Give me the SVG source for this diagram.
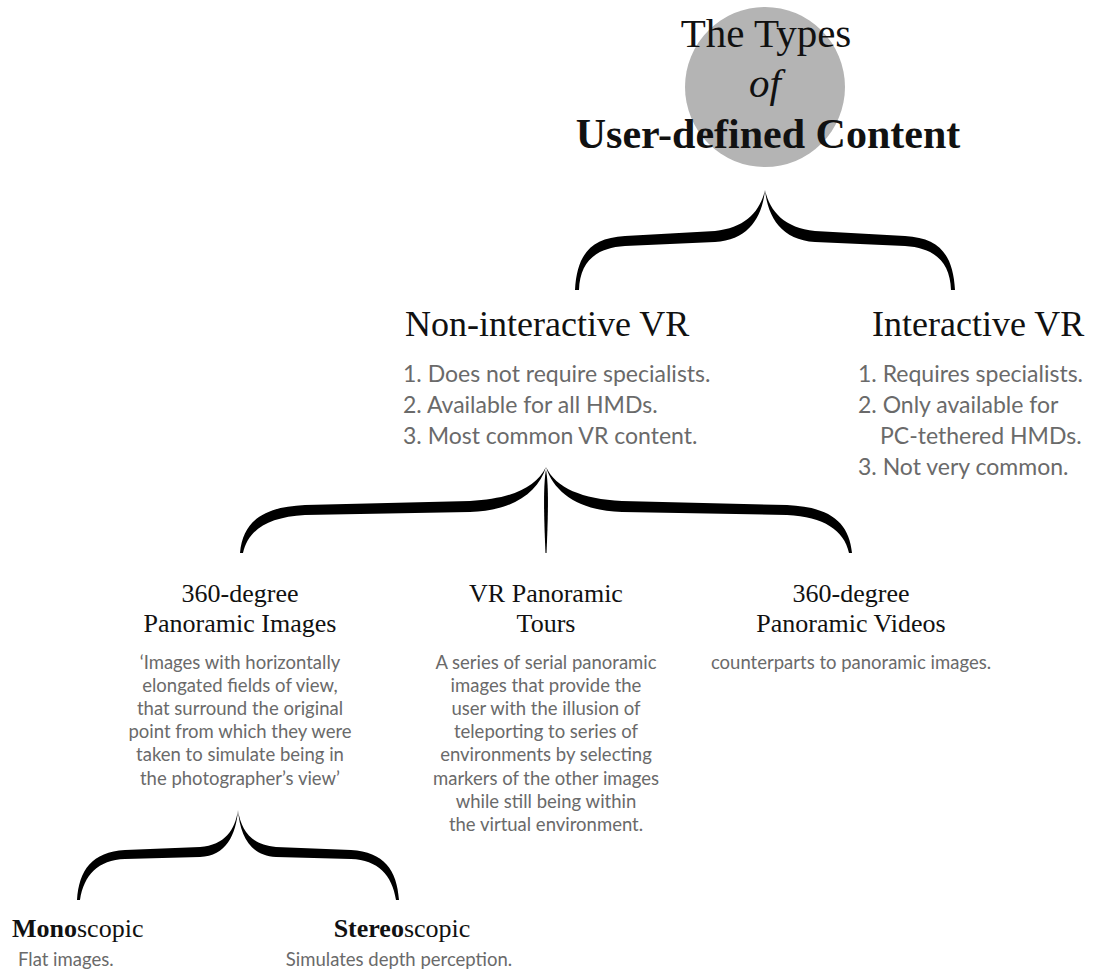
<svg xmlns="http://www.w3.org/2000/svg" width="1114" height="971" viewBox="0 0 1114 971">
<style>
.t{font-family:"Liberation Serif","Times New Roman",serif;fill:#111}
.b{font-family:Lato,"Liberation Sans",sans-serif;fill:#6a6a6a}
.h1{font-size:41px}
.h2{font-size:36px}
.h3{font-size:26px}
.l{font-size:23px}
.s{font-size:18.5px}
.c{text-anchor:middle}
.brace{fill:#000}
</style>
<rect width="1114" height="971" fill="#fff"/>
<g id="title">
<circle cx="765" cy="87" r="80" fill="#b4b4b4"/>
<text class="t h1 c" x="766" y="47">The Types</text>
<text class="t h1 c" x="765" y="97" font-style="italic">of</text>
<text class="t c" x="768" y="148" font-size="42" font-weight="bold">User-defined Content</text>
</g>
<g id="connectors">
<path class="brace" d="M575,290 C577,255 590,238 625,236 L715,231 C745,228 760,212 765,190 C762,218 748,240 715,242 L625,246 C595,248 580,262 579,290 Z"/>
<path class="brace" d="M955,290 C953,255 940,238 905,236 L815,231 C785,228 770,212 765,190 C768,218 782,240 815,242 L905,246 C935,248 950,262 951,290 Z"/>
<path class="brace" d="M240,553 C243,522 262,507 305,505 L470,501 C510,499 536,488 546,467 C538,493 512,511 470,512 L305,515 C268,517 248,530 243,553 Z"/>
<path class="brace" d="M852,553 C849,522 830,507 787,505 L622,501 C582,499 556,488 546,467 C554,493 580,511 622,512 L787,515 C824,517 844,530 849,553 Z"/>
<path class="brace" d="M546,470 C549,485 548,520 546.5,553 L545.5,553 C544,520 543,485 546,470 Z"/>
<path class="brace" d="M77,900 C79,870 92,852 125,850 L200,847 C225,845 235,830 238,810 C236,835 226,856 200,857 L125,859 C98,860 84,875 80,900 Z"/>
<path class="brace" d="M399,900 C397,870 384,852 351,850 L276,847 C251,845 241,830 238,810 C240,835 250,856 276,857 L351,859 C378,860 392,875 396,900 Z"/>
</g>
<g id="non-interactive">
<text class="t h2" x="405" y="336">Non-interactive VR</text>
<text class="b l" x="403" y="382">1. Does not require specialists.</text>
<text class="b l" x="403" y="413">2. Available for all HMDs.</text>
<text class="b l" x="403" y="444">3. Most common VR content.</text>
</g>
<g id="interactive">
<text class="t h2" x="872" y="336">Interactive VR</text>
<text class="b l" x="858" y="382">1. Requires specialists.</text>
<text class="b l" x="858" y="413">2. Only available for</text>
<text class="b l" x="880" y="444">PC-tethered HMDs.</text>
<text class="b l" x="858" y="475">3. Not very common.</text>
</g>
<g id="panoramic-images">
<text class="t h3 c" x="240" y="602">360-degree</text>
<text class="t h3 c" x="240" y="632">Panoramic Images</text>
<text class="b s c" x="240" y="669">‘Images with horizontally</text>
<text class="b s c" x="240" y="692">elongated fields of view,</text>
<text class="b s c" x="240" y="715">that surround the original</text>
<text class="b s c" x="240" y="738">point from which they were</text>
<text class="b s c" x="240" y="761">taken to simulate being in</text>
<text class="b s c" x="240" y="785">the photographer’s view’</text>
</g>
<g id="panoramic-tours">
<text class="t h3 c" x="546" y="602">VR Panoramic</text>
<text class="t h3 c" x="546" y="632">Tours</text>
<text class="b s c" x="546" y="669">A series of serial panoramic</text>
<text class="b s c" x="546" y="692">images that provide the</text>
<text class="b s c" x="546" y="715">user with the illusion of</text>
<text class="b s c" x="546" y="738">teleporting to series of</text>
<text class="b s c" x="546" y="761">environments by selecting</text>
<text class="b s c" x="546" y="785">markers of the other images</text>
<text class="b s c" x="546" y="808">while still being within</text>
<text class="b s c" x="546" y="831">the virtual environment.</text>
</g>
<g id="panoramic-videos">
<text class="t h3 c" x="851" y="602">360-degree</text>
<text class="t h3 c" x="851" y="632">Panoramic Videos</text>
<text class="b s c" x="851" y="669">counterparts to panoramic images.</text>
</g>
<g id="monoscopic">
<text class="t h3" x="12" y="937"><tspan font-weight="bold">Mono</tspan>scopic</text>
<text class="b s" x="18" y="966">Flat images.</text>
</g>
<g id="stereoscopic">
<text class="t h3 c" x="402" y="937"><tspan font-weight="bold">Stereo</tspan>scopic</text>
<text class="b s c" x="399" y="966">Simulates depth perception.</text>
</g>
</svg>
